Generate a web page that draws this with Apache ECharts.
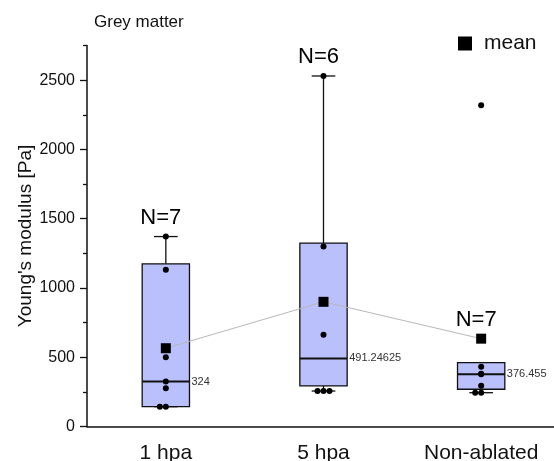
<!DOCTYPE html>
<html>
<head>
<meta charset="utf-8">
<script src="https://cdn.jsdelivr.net/npm/echarts@6/dist/echarts.min.js"></script>
<style>
  html, body { margin: 0; padding: 0; background: #fff; }
  #chart { width: 554px; height: 461px; }
</style>
</head>
<body>
<div id="chart"></div>
<script>
// Young's modulus of grey matter per condition
const categories = ['1 hpa', '5 hpa', 'Non-ablated'];

// Box statistics per condition
const boxMin    = [143, 256, 244];
const boxQ1     = [143, 293, 269];
const boxMedian = [324, 491.24625, 376.455];
const boxQ3     = [1174, 1324, 461];
const boxMax    = [1371, 2530, 461];

// Mean per condition and sample counts
const meanValues = [565, 900, 634];
const sampleCounts = [7, 6, 7];

// Individual measurements
const points1hpa = [1371, 1131, 500, 324, 276, 143, 143];
const points5hpa = [2530, 1299, 663, 256, 256, 256];
const pointsNonAblated = [2318, 432, 380, 376.455, 295, 244, 244];

// Y axis ticks
const majorTicks = [0, 500, 1000, 1500, 2000, 2500];
const minorTicks = [250, 750, 1250, 1750, 2250, 2750];
const yMax = 2750;

const FONT = "'Liberation Sans', Arial, sans-serif";
const chart = echarts.init(document.getElementById('chart'), null, { renderer: 'canvas' });

// The plot area runs slightly past the right edge of the canvas
const gridLeft = 87, gridWidth = 473;
const bandPx = gridWidth / categories.length;
const dotStepPx = 6;

// Spread measurements that share a value side by side
function spreadPoints(values, catIndex) {
  const groups = {};
  values.forEach(v => { (groups[v] = groups[v] || []).push(v); });
  const out = [];
  Object.keys(groups).forEach(k => {
    const g = groups[k];
    const shift = Math.ceil((g.length - 1) / 2);
    g.forEach((v, i) => {
      out.push([catIndex + (i - shift) * dotStepPx / bandPx, v]);
    });
  });
  return out;
}

const pointData = []
  .concat(spreadPoints(points1hpa, 0))
  .concat(spreadPoints(points5hpa, 1))
  .concat(spreadPoints(pointsNonAblated, 2));

const boxData = categories.map((c, i) => [i, boxMin[i], boxQ1[i], boxMedian[i], boxQ3[i], boxMax[i]]);

const nLabelData = categories.map((c, i) => ({
  value: [i, Math.max(boxMax[i], meanValues[i])],
  n: sampleCounts[i]
}));

function renderBox(params, api) {
  const idx = api.value(0);
  const band = api.size([1, 0])[0];
  const boxW = band * 0.3;
  const cx = api.coord([idx, 0])[0];
  const y = v => api.coord([idx, v])[1];
  const yMinP = y(api.value(1)), yQ1 = y(api.value(2)), yMed = y(api.value(3));
  const yQ3 = y(api.value(4)), yMaxP = y(api.value(5));
  const x0 = cx - boxW / 2, x1 = cx + boxW / 2;
  const capHalf = boxW / 4;
  const stroke = { stroke: '#111', lineWidth: 1.3, fill: null };
  return {
    type: 'group',
    children: [
      { type: 'line', shape: { x1: cx, y1: yQ3, x2: cx, y2: yMaxP }, style: stroke },
      { type: 'line', shape: { x1: cx, y1: yQ1, x2: cx, y2: yMinP }, style: stroke },
      { type: 'line', shape: { x1: cx - capHalf, y1: yMaxP, x2: cx + capHalf, y2: yMaxP }, style: stroke },
      { type: 'line', shape: { x1: cx - capHalf, y1: yMinP, x2: cx + capHalf, y2: yMinP }, style: stroke },
      { type: 'rect', shape: { x: x0, y: yQ3, width: boxW, height: yQ1 - yQ3 },
        style: { fill: '#b9c0fb', stroke: '#111', lineWidth: 1.3 } },
      { type: 'line', shape: { x1: x0, y1: yMed, x2: x1, y2: yMed }, style: { stroke: '#111', lineWidth: 2 } },
      { type: 'text', x: x1 + 2, y: yMed,
        style: { text: String(api.value(3)), fill: '#333', font: '11px ' + FONT,
                 textVerticalAlign: 'middle', textAlign: 'left' } }
    ]
  };
}

chart.setOption({
  animation: false,
  backgroundColor: '#fff',
  textStyle: { fontFamily: FONT },
  title: {
    text: 'Grey matter',
    left: 94, top: 14, padding: 0,
    textStyle: { fontSize: 17, fontWeight: 'normal', color: '#111', fontFamily: FONT }
  },
  legend: {
    data: ['mean'],
    icon: 'rect',
    itemWidth: 14, itemHeight: 14,
    left: 458, top: 33, padding: 0,
    textStyle: { fontSize: 21, color: '#111', fontFamily: FONT, padding: [0, 0, 0, 7] }
  },
  grid: { left: gridLeft, width: gridWidth, top: 45.5, bottom: 34.5, outerBoundsMode: 'none', containLabel: false },
  xAxis: [
    {
      type: 'category',
      data: categories,
      position: 'bottom',
      boundaryGap: true,
      axisLine: { onZero: false, lineStyle: { color: '#111', width: 1.5 } },
      axisTick: { alignWithLabel: true, length: 7, lineStyle: { color: '#111', width: 1.3 } },
      axisLabel: { fontSize: 21, color: '#111', margin: 16, fontFamily: FONT }
    },
    {
      type: 'value', min: -0.5, max: categories.length - 0.5,
      position: 'bottom', show: false
    }
  ],
  yAxis: [
    {
      type: 'value', min: 0, max: yMax, position: 'left',
      name: "Young's modulus [Pa]",
      nameLocation: 'middle', nameGap: 52, nameRotate: 90, nameMoveOverlap: false,
      nameTextStyle: { fontSize: 19, color: '#111', fontFamily: FONT },
      axisLine: { show: true, onZero: false, lineStyle: { color: '#111', width: 1.5 } },
      axisTick: { show: true, length: 7, customValues: majorTicks, lineStyle: { color: '#111', width: 1.3 } },
      axisLabel: { fontSize: 16, color: '#111', margin: 12, customValues: majorTicks,
                   fontFamily: FONT, formatter: v => String(v) },
      splitLine: { show: false }
    },
    {
      type: 'value', min: 0, max: yMax, position: 'left',
      axisLine: { show: false, onZero: false },
      axisTick: { show: true, length: 4, customValues: minorTicks, lineStyle: { color: '#111', width: 1.3 } },
      axisLabel: { show: false },
      splitLine: { show: false }
    }
  ],
  series: [
    {
      type: 'custom',
      name: 'box',
      xAxisIndex: 0, yAxisIndex: 0,
      data: boxData,
      encode: { x: 0, y: [1, 2, 3, 4, 5] },
      renderItem: renderBox,
      z: 2,
      silent: true
    },
    {
      type: 'scatter',
      name: 'points',
      xAxisIndex: 1, yAxisIndex: 0,
      data: pointData,
      symbol: 'circle',
      symbolSize: 6,
      itemStyle: { color: '#000', opacity: 1 },
      z: 3,
      silent: true
    },
    {
      type: 'line',
      name: 'mean',
      xAxisIndex: 0, yAxisIndex: 0,
      data: meanValues,
      symbol: 'rect',
      symbolSize: 10,
      itemStyle: { color: '#000', opacity: 1 },
      lineStyle: { color: '#b8b8b8', width: 1 },
      z: 4,
      silent: true
    },
    {
      type: 'scatter',
      name: 'counts',
      xAxisIndex: 0, yAxisIndex: 0,
      data: nLabelData,
      symbolSize: 0,
      itemStyle: { opacity: 1 },
      label: {
        show: true, position: 'top', distance: 8, offset: [-5, 0],
        formatter: p => 'N=' + p.data.n,
        fontSize: 22, color: '#000', fontFamily: FONT
      },
      z: 5,
      silent: true
    }
  ]
});
</script>
</body>
</html>
